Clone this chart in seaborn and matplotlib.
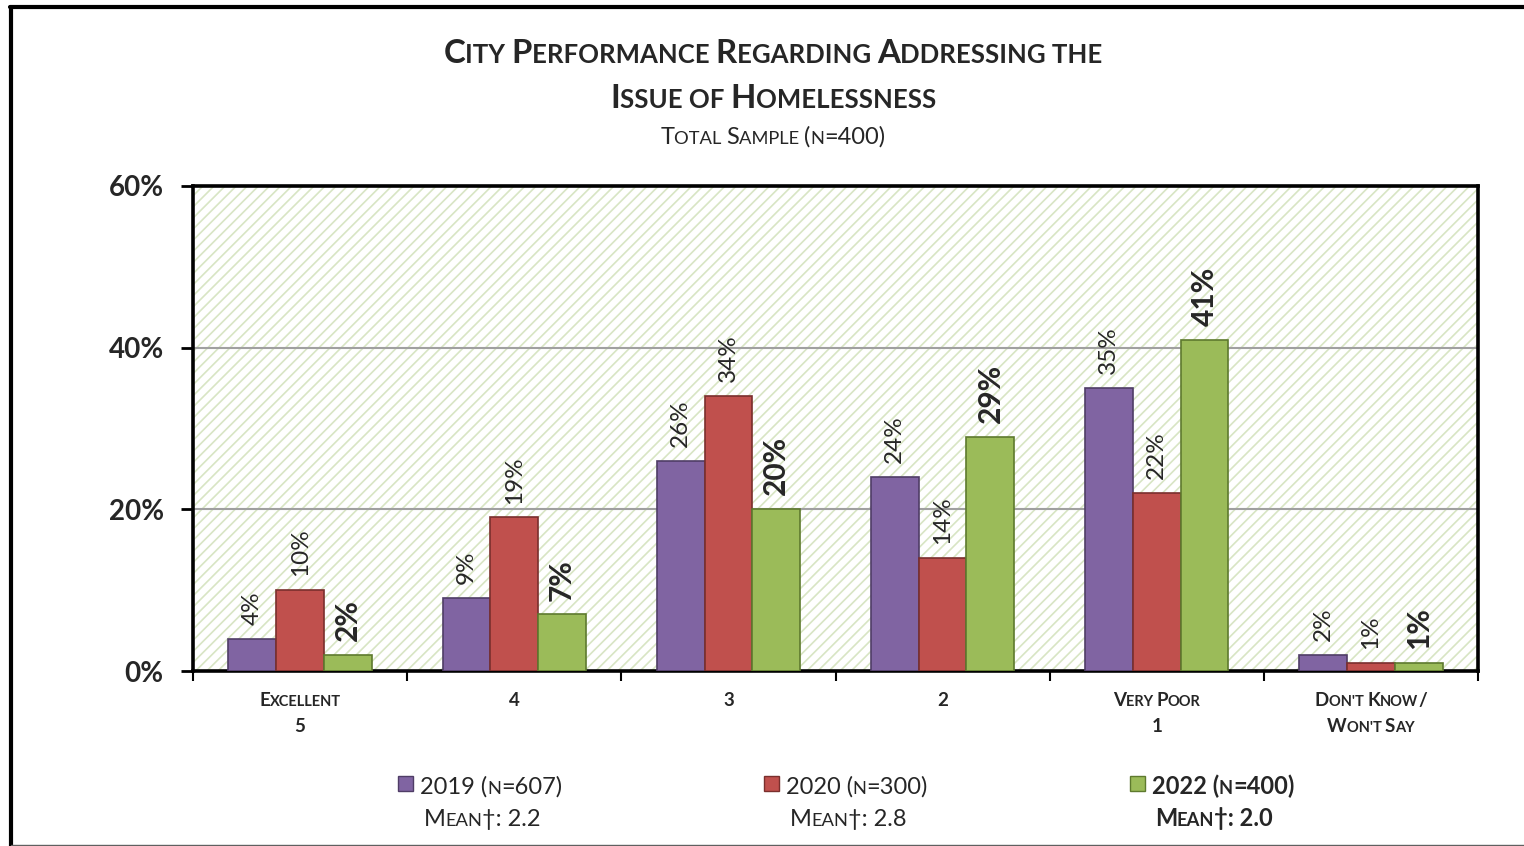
"""City performance on homelessness: grouped bars by survey year."""

import matplotlib

matplotlib.use("Agg")

import matplotlib.pyplot as plt
import numpy as np
import pandas as pd
import seaborn as sns
from matplotlib.lines import Line2D
from matplotlib.patches import Rectangle


W, H = 1524, 846

CATEGORIES = ["5", "4", "3", "2", "1", "DK"]
CAT_LABELS = [["Excellent", "5"], ["4"], ["3"], ["2"], ["Very Poor", "1"], ["Don't Know/", "Won't Say"]]
YEARS = ["2019", "2020", "2022"]
PCT_2019 = [4, 9, 26, 24, 35, 2]
PCT_2020 = [10, 19, 34, 14, 22, 1]
PCT_2022 = [2, 7, 20, 29, 41, 1]
LEGEND_TOP = ["2019 (n=607)", "2020 (n=300)", "2022 (n=400)"]
LEGEND_MEAN = ["Mean\u2020: 2.2", "Mean\u2020: 2.8", "Mean\u2020: 2.0"]
COLORS = ["#8064A2", "#C0504D", "#9BBB59"]
EDGES = ["#4F3D66", "#7A2F2D", "#5E7A2E"]
Y_TICKS = [0, 20, 40, 60]

FONT = ["Lato", "DejaVu Sans"]


def advance(fig, renderer, s, size, weight):
    t = fig.text(0, 0, "|" + s + "|", fontsize=size, fontweight=weight, family=FONT)
    w1 = t.get_window_extent(renderer).width
    t.set_text("||")
    w2 = t.get_window_extent(renderer).width
    t.remove()
    return w1 - w2


def draw_caps(fig, renderer, x, y, text, size, weight="normal", ratio=0.78, ha="center"):
    """Fake small caps: lowercase letters drawn as smaller capitals."""
    runs = []
    for ch in text:
        if ch.islower():
            small = True
        elif ch in "' " and runs:
            small = runs[-1][1]
        else:
            small = False
        c = ch.upper()
        if runs and runs[-1][1] == small:
            runs[-1][0] += c
        else:
            runs.append([c, small])
    widths = [advance(fig, renderer, s, size * ratio if sm else size, weight) for s, sm in runs]
    start = x - sum(widths) / 2 if ha == "center" else x
    for (s, sm), w in zip(runs, widths):
        fig.text(start / W, 1 - y / H, s, fontsize=size * ratio if sm else size,
                 fontweight=weight, family=FONT, ha="left", va="baseline")
        start += w
    return sum(widths)


def main() -> None:
    sns.set_theme(style="white")
    plt.rcParams["font.family"] = FONT
    plt.rcParams["hatch.linewidth"] = 1.2

    df = pd.DataFrame({
        "rating": CATEGORIES * 3,
        "year": np.repeat(YEARS, len(CATEGORIES)),
        "pct": PCT_2019 + PCT_2020 + PCT_2022,
    })

    fig = plt.figure(figsize=(W / 100, H / 100), dpi=100)
    ax = fig.add_axes([193 / W, 1 - 671 / H, (1478 - 193) / W, (671 - 186) / H])
    ax.patch.set_facecolor("white")
    ax.patch.set_hatch("///")
    ax.patch.set_edgecolor("#D8E5C4")

    sns.barplot(data=df, x="rating", y="pct", hue="year", order=CATEGORIES, hue_order=YEARS,
                palette=COLORS, saturation=1, width=0.67, gap=0, legend=False, ax=ax, zorder=3)
    for cont, edge in zip(ax.containers, EDGES):
        for bar in cont:
            bar.set_edgecolor(edge)
            bar.set_linewidth(1.2)

    for i, cont in enumerate(ax.containers):
        bold = i == 2
        ax.bar_label(cont, labels=[f"{v:.0f}%" for v in cont.datavalues], rotation=90,
                     padding=10, fontsize=21.5 if bold else 17.5,
                     fontweight="bold" if bold else "normal", zorder=4)

    ax.set_ylim(0, 60)
    ax.set_xlim(-0.5, len(CATEGORIES) - 0.5)
    ax.set_yticks(Y_TICKS)
    ax.set_yticklabels([f"{v}%" for v in Y_TICKS], fontsize=20, fontweight="bold")
    ax.set_xticks(np.arange(-0.5, len(CATEGORIES), 1))
    ax.set_xticklabels([])
    ax.set_xlabel("")
    ax.set_ylabel("")
    ax.tick_params(axis="y", left=True, length=9, width=2, pad=12, color="black")
    ax.tick_params(axis="x", bottom=True, length=7, width=1.5, color="black")
    for v in [20, 40]:
        ax.axhline(v, color="#A0A0A0", lw=1.5, zorder=2)
    for side in ["left", "right", "top", "bottom"]:
        ax.spines[side].set_visible(True)
        ax.spines[side].set_color("black")
        ax.spines[side].set_linewidth(2.6)

    renderer = fig.canvas.get_renderer()

    # titles
    draw_caps(fig, renderer, 773, 63, "City Performance Regarding Addressing the", 23.8, "bold")
    draw_caps(fig, renderer, 773, 108, "Issue of Homelessness", 23.8, "bold")
    draw_caps(fig, renderer, 773, 144, "Total Sample (n=400)", 17)

    # category labels
    for i, lines in enumerate(CAT_LABELS):
        cx = 193 + (1478 - 193) * (i + 0.5) / len(CATEGORIES)
        for j, line in enumerate(lines):
            draw_caps(fig, renderer, cx, 706 + 26 * j, line, 13.5, "bold")

    # legend
    for i, (top, mean) in enumerate(zip(LEGEND_TOP, LEGEND_MEAN)):
        cx = 482 + 366 * i
        weight = "bold" if i == 2 else "normal"
        w = advance(fig, renderer, top.replace("n", "N"), 17, weight)
        x0 = cx - (w + 22) / 2
        fig.add_artist(Rectangle((x0 / W, 1 - 791 / H), 15 / W, 15 / H, transform=fig.transFigure,
                                 facecolor=COLORS[i], edgecolor=EDGES[i], lw=1))
        draw_caps(fig, renderer, x0 + 22, 794, top, 17, weight, ha="left")
        draw_caps(fig, renderer, cx, 826, mean, 17, weight)

    # outer frame
    fig.add_artist(Line2D([10 / W, 1], [1 - 7 / H] * 2, transform=fig.transFigure, color="black", lw=3))
    fig.add_artist(Line2D([11 / W] * 2, [0, 1 - 7 / H], transform=fig.transFigure, color="black", lw=3))
    fig.add_artist(Line2D([11 / W, 1], [1 - 845 / H] * 2, transform=fig.transFigure, color="#606060", lw=1))

    fig.savefig("out.png", dpi=100)
    plt.close(fig)


if __name__ == "__main__":
    main()
